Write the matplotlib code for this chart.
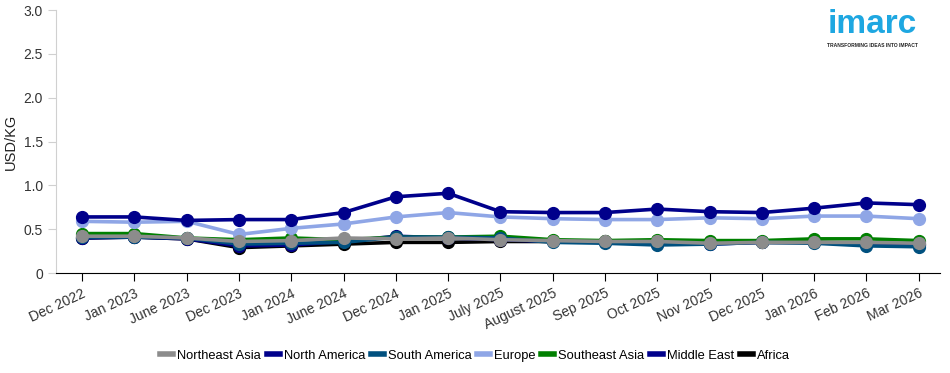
import matplotlib
matplotlib.use("Agg")
import matplotlib.pyplot as plt
from matplotlib.lines import Line2D

plt.rcParams["font.family"] = ["Liberation Sans", "DejaVu Sans"]

# -----------------------------
# DATA
# -----------------------------
months = ["Dec 2022", "Jan 2023", "June 2023", "Dec 2023", "Jan 2024", "June 2024",
          "Dec 2024", "Jan 2025", "July 2025", "August 2025", "Sep 2025", "Oct 2025",
          "Nov 2025", "Dec 2025", "Jan 2026", "Feb 2026", "Mar 2026"]

northeast_asia = [0.42, 0.42, 0.40, 0.36, 0.37, 0.40, 0.39, 0.40, 0.38, 0.37, 0.36, 0.36, 0.34, 0.35, 0.35, 0.35, 0.34]
north_america = [0.64, 0.64, 0.60, 0.61, 0.61, 0.69, 0.87, 0.91, 0.70, 0.69, 0.69, 0.73, 0.70, 0.69, 0.74, 0.80, 0.78]
south_america = [0.41, 0.41, 0.40, 0.33, 0.34, 0.35, 0.41, 0.41, 0.40, 0.35, 0.34, 0.32, 0.33, 0.35, 0.34, 0.31, 0.30]
europe = [0.59, 0.58, 0.59, 0.44, 0.51, 0.56, 0.64, 0.69, 0.64, 0.62, 0.61, 0.61, 0.63, 0.62, 0.65, 0.65, 0.62]
southeast_asia = [0.45, 0.45, 0.40, 0.38, 0.40, 0.38, 0.41, 0.41, 0.42, 0.38, 0.37, 0.38, 0.37, 0.37, 0.39, 0.39, 0.37]
middle_east = [0.40, 0.41, 0.39, 0.31, 0.32, 0.36, 0.42, 0.40, 0.38, 0.36, 0.35, 0.33, 0.33, 0.35, 0.35, 0.33, 0.32]
africa = [0.40, 0.41, 0.39, 0.29, 0.31, 0.33, 0.35, 0.35, 0.36, 0.36, 0.36, 0.36, 0.35, 0.35, 0.35, 0.34, 0.33]

series = [
    ("Northeast Asia", northeast_asia, "#8c8c8c"),
    ("North America", north_america, "#00008b"),
    ("South America", south_america, "#00507f"),
    ("Europe", europe, "#8fa6e6"),
    ("Southeast Asia", southeast_asia, "#008000"),
    ("Middle East", middle_east, "#00008b"),
    ("Africa", africa, "#000000"),
]

# -----------------------------
# PLOT
# -----------------------------
fig = plt.figure(figsize=(9.5, 3.73), dpi=100)
ax = fig.add_axes([0.059, 0.268, 0.93, 0.705])

x = list(range(len(months)))
n = len(series)
for i, (name, vals, color) in enumerate(series):
    ax.plot(x, vals, color=color, linewidth=2.6, marker="o", markersize=8.5,
            zorder=10 + (n - i), label=name, solid_capstyle="round")

ax.set_xlim(-0.5, 16.4)
ax.set_ylim(0, 3.0)
ax.set_yticks([0, 0.5, 1.0, 1.5, 2.0, 2.5, 3.0])
ax.set_yticklabels(["0", "0.5", "1.0", "1.5", "2.0", "2.5", "3.0"], fontsize=10, color="#333333")
ax.set_xticks(x)
ax.set_xticklabels(months, rotation=25, ha="right", rotation_mode="anchor", fontsize=10, color="#333333")
ax.set_ylabel("USD/KG", fontsize=10.5, color="#222222")

for s in ["top", "right"]:
    ax.spines[s].set_visible(False)
ax.spines["left"].set_color("#d0d0d0")
ax.spines["bottom"].set_color("#000000")
ax.tick_params(axis="y", length=6, color="#d0d0d0")
ax.tick_params(axis="x", length=6, color="#000000")

handles = [Line2D([0], [0], color=c, linewidth=4) for _, _, c in series]
fig.legend(handles, [s[0] for s in series], loc="center", bbox_to_anchor=(0.5, 0.046),
           ncol=7, frameon=False, fontsize=9.3, handlelength=1.0, handletextpad=0.3,
           columnspacing=0.45)

# logo
fig.text(0.918, 0.935, "imarc", color="#1ea7e1", fontsize=24, fontweight="bold",
         ha="center", va="center")
fig.text(0.918, 0.878, "TRANSFORMING IDEAS INTO IMPACT", color="#222222", fontsize=3.6,
         fontweight="bold", ha="center", va="center")

fig.savefig("out.png", dpi=100)
